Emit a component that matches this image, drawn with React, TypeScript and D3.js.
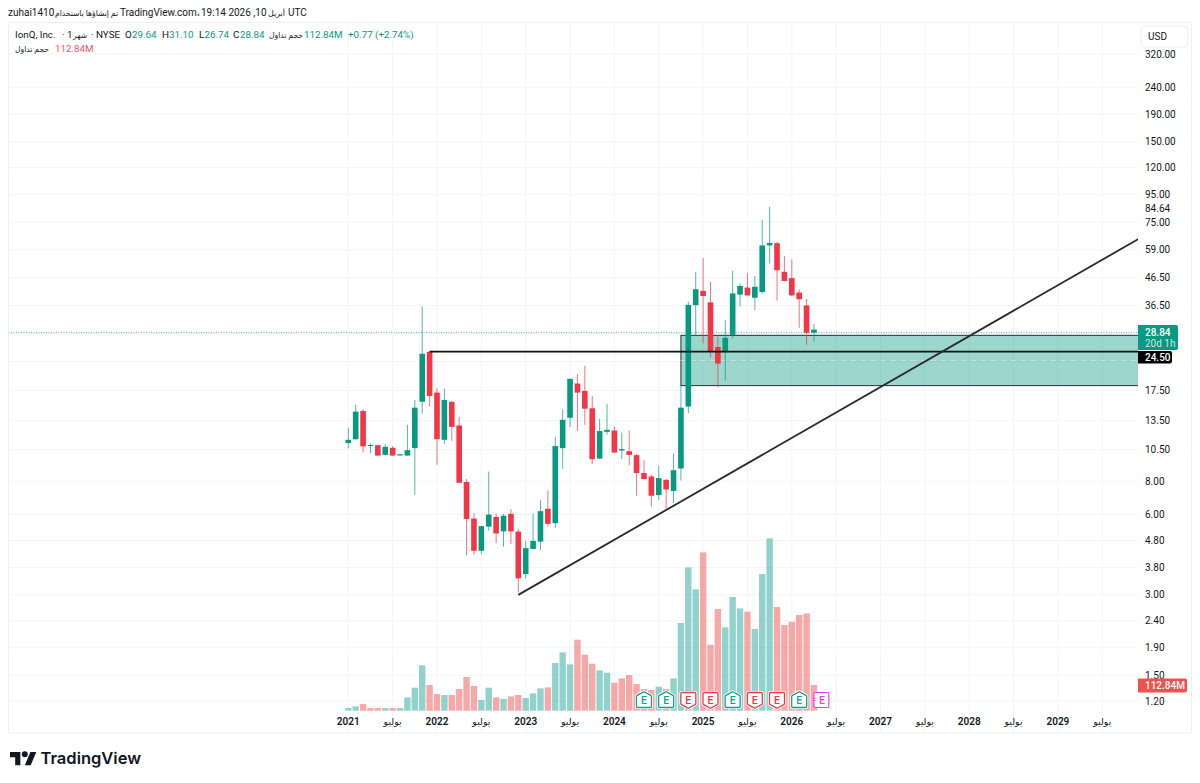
import React from 'react';
import * as d3 from 'd3';

// monthly bars, Jan 2021 -> Apr 2026
const opens = [11.13, 11.5, 14.68, 10.94, 10.92, 10.05, 10.68, 10.0, 9.99, 10.65, 15.9, 24.47, 17.2, 11.44, 15.88, 12.95, 7.95, 5.8, 4.39, 5.41, 5.88, 5.19, 6.04, 5.18, 3.59, 4.46, 4.75, 6.31, 5.57, 10.65, 13.84, 18.6, 17.45, 15.02, 9.73, 12.26, 12.4, 10.56, 10.37, 10.02, 8.59, 8.34, 7.1, 8.1, 7.35, 8.93, 15.25, 36.6, 41.4, 37.5, 25.5, 24.4, 28.3, 40.1, 42.6, 39.0, 41.0, 61.3, 62.5, 48.8, 46.2, 40.8, 36.5, 29.64];
const highs = [12.69, 15.47, 14.9, 11.1, 10.96, 11.03, 10.84, 10.14, 13.03, 16.15, 36.2, 24.5, 17.87, 17.8, 16.0, 13.92, 8.15, 6.08, 5.45, 8.7, 6.04, 6.04, 6.29, 5.29, 4.78, 6.04, 6.81, 7.39, 11.72, 14.9, 19.42, 20.2, 21.7, 16.7, 13.72, 15.6, 12.84, 12.19, 12.4, 10.14, 9.6, 8.46, 9.14, 8.15, 10.17, 18.4, 37.7, 48.7, 55.0, 44.8, 27.9, 32.2, 49.2, 44.2, 48.2, 47.1, 76.3, 85.5, 63.0, 55.9, 54.3, 41.9, 38.6, 31.1];
const lows = [10.63, 11.44, 10.25, 10.2, 9.97, 9.99, 9.97, 9.97, 9.97, 7.12, 14.33, 15.25, 9.22, 11.03, 11.34, 7.88, 4.22, 4.24, 4.27, 5.22, 4.69, 4.55, 4.65, 3.06, 3.45, 4.45, 4.42, 5.41, 5.34, 8.91, 12.77, 12.37, 13.03, 9.28, 9.71, 11.95, 10.25, 9.68, 9.17, 7.06, 8.15, 6.43, 6.81, 6.31, 6.62, 8.05, 14.42, 28.3, 26.3, 23.3, 18.0, 19.1, 27.5, 36.2, 39.7, 35.1, 40.4, 52.4, 38.1, 45.0, 39.6, 30.1, 26.0, 26.74];
const closes = [11.44, 14.6, 10.81, 10.85, 9.99, 10.77, 9.99, 10.1, 10.46, 15.1, 24.06, 16.7, 11.5, 16.15, 12.8, 7.9, 5.77, 4.39, 5.43, 6.0, 5.1, 5.94, 5.19, 3.46, 4.49, 4.78, 6.18, 5.54, 10.84, 13.6, 19.37, 17.2, 14.97, 9.68, 12.34, 12.47, 10.25, 10.43, 10.05, 8.59, 8.15, 7.06, 8.22, 7.45, 8.8, 15.1, 36.7, 42.0, 39.6, 24.5, 22.1, 27.6, 40.5, 43.2, 39.8, 42.9, 61.3, 62.6, 49.5, 45.1, 39.8, 38.5, 28.8, 28.84];
const volumes = [11.7, 19, 29.3, 11.7, 11.7, 11.7, 11.7, 11.7, 58.4, 101, 199, 112.8, 73.3, 68.9, 68.9, 95.3, 148, 108.4, 47, 101, 58.4, 51.4, 62.8, 68.9, 55.8, 75.9, 97.9, 102.3, 209.4, 255.9, 203.3, 311.7, 245.8, 206.3, 176.9, 166.8, 122.9, 141.8, 156.7, 117.2, 95.3, 90.9, 105.4, 95.3, 141.8, 385, 629, 532.5, 694.9, 289.7, 446.5, 365.7, 499.1, 449.1, 434.6, 358.7, 600.1, 756.4, 455.2, 376.2, 390.7, 420.1, 427.1, 112.84];

const priceTicks = [320, 240, 190, 150, 120, 95, 75, 59, 46.5, 36.5, 17.5, 13.5, 10.5, 8, 6, 4.8, 3.8, 3, 2.4, 1.9, 1.5, 1.2];
const hiddenTicks = [28.5, 22.5]; // labels covered by the price tags
const years = ['2021', '2022', '2023', '2024', '2025', '2026', '2027', '2028', '2029'];
const julyLabel = 'يوليو';

// earnings markers: bar index and result
const earningsIdx = [40, 43, 46, 49, 52, 55, 58, 61];
const earningsBeat = [true, true, false, false, true, false, false, true];
const nextEarningsIdx = 64;

// drawings
const trendIdx = [23, 106.9];
const trendPrice = [3.0, 64.8];
const levelStartIdx = 11;
const levelPrice = 24.5;
const boxStartIdx = 45;
const boxPrices = [28.2, 18.27];
const lastClose = 28.84;

const UP = '#089981';
const DOWN = '#F23645';
const TEXT = '#131722';
const FONT = 'Roboto, "DejaVu Sans", sans-serif';

const paneLeft = 8.5;
const paneTop = 22.5;
const paneRight = 1138;
const paneBottom = 733;
const outerRight = 1191.5;

const x = d3.scaleLinear().domain([0, 12]).range([348.3, 437]);
const y = d3.scaleLog().domain([320, 1.2]).range([54, 701]);
const volY = d3.scaleLinear().domain([0, d3.max(volumes) as number]).range([710.7, 538.4]);

const trendLine = d3.line<number>()
    .x(d => x(d))
    .y((d, i) => y(trendPrice[i]));

const housePath = (up: boolean) => {
    // pentagon pointing up or down, centred on 0,0
    return up
        ? 'M0,-8.2 L6.8,-4.6 Q7.5,-4.2 7.5,-3.4 L7.5,6.3 Q7.5,7.5 6.3,7.5 L-6.3,7.5 Q-7.5,7.5 -7.5,6.3 L-7.5,-3.4 Q-7.5,-4.2 -6.8,-4.6 Z'
        : 'M0,8.2 L6.8,4.6 Q7.5,4.2 7.5,3.4 L7.5,-6.3 Q7.5,-7.5 6.3,-7.5 L-6.3,-7.5 Q-7.5,-7.5 -7.5,-6.3 L-7.5,3.4 Q-7.5,4.2 -6.8,4.6 Z';
};

// arabic runs come out wide in the fallback font, so squeeze them to the measured width
const Fit: React.FC<{ x: number; y: number; w: number; size?: number; text: string }> = ({ x: tx, y: ty, w, size = 8, text }) => (
    <text x={tx} y={ty} fontSize={size} textLength={w} lengthAdjust="spacingAndGlyphs">{text}</text>
);

const App: React.FC = () => {
    const vGrid = d3.range(0, 108, 6);
    const boxTop = y(boxPrices[0]);
    const boxBottom = y(boxPrices[1]);
    const boxMid = (boxTop + boxBottom) / 2;

    return (
        <svg width={1200} height={783} style={{ position: 'absolute', left: 0, top: 0, background: '#fff' }} fontFamily={FONT}>
            <defs>
                <clipPath id="pane">
                    <rect x={paneLeft} y={paneTop} width={paneRight - paneLeft} height={paneBottom - paneTop} />
                </clipPath>
            </defs>

            {/* watermark line */}
            <g fontSize={10} fill={TEXT}>
                <text x={8} y={15.5}>zuhai1410</text>
                <Fit x={55} y={15.5} w={63} text="تم إنشاؤها باستخدام" />
                <text x={120} y={15.5}>TradingView.com،</text>
                <text x={201} y={15.5}>19:14 2026 ,10</text>
                <Fit x={268} y={15.5} w={17} text="أبريل" />
                <text x={288} y={15.5}>UTC</text>
            </g>

            {/* frame */}
            <rect x={paneLeft} y={paneTop} width={outerRight - paneLeft} height={paneBottom - paneTop} fill="none" stroke="#eeeff2" />

            {/* grid */}
            {vGrid.map(i => (
                <line key={i} x1={x(i)} x2={x(i)} y1={paneTop} y2={paneBottom} stroke="#f4f5f7" />
            ))}
            {[...priceTicks, ...hiddenTicks].map(t => (
                <line key={t} x1={paneLeft} x2={paneRight} y1={y(t)} y2={y(t)} stroke="#f4f5f7" />
            ))}

            <g clipPath="url(#pane)">
                {/* volume */}
                {volumes.map((v, i) => (
                    <rect key={i} x={x(i) - 3.2} width={6.4} y={volY(v)} height={volY(0) - volY(v)}
                        fill={closes[i] >= opens[i] ? '#26a69a' : '#ef5350'} opacity={0.5} />
                ))}

                {/* zone */}
                <rect x={x(boxStartIdx)} width={paneRight - x(boxStartIdx) + 2} y={boxTop} height={boxBottom - boxTop}
                    fill="#089981" fillOpacity={0.4} stroke="#2a2e39" strokeWidth={1} />
                <line x1={x(boxStartIdx)} x2={paneRight} y1={boxMid} y2={boxMid} stroke="#d6dbd9" strokeDasharray="5 5" />

                {/* last price */}
                <line x1={paneLeft} x2={paneRight} y1={y(lastClose)} y2={y(lastClose)} stroke={UP} strokeOpacity={0.7} strokeDasharray="1 1.5" />

                {/* candles, coloured against the previous close */}
                {closes.map((c, i) => {
                    const up = i === 0 ? c >= opens[i] : c >= closes[i - 1];
                    const col = up ? UP : DOWN;
                    const top = y(Math.max(opens[i], c));
                    const bot = y(Math.min(opens[i], c));
                    return (
                        <g key={i}>
                            <line x1={x(i)} x2={x(i)} y1={y(highs[i])} y2={y(lows[i])} stroke={col} strokeWidth={1} strokeOpacity={0.7} />
                            <rect x={x(i) - 2.8} width={5.6} y={top} height={Math.max(bot - top, 1)} fill={col} />
                        </g>
                    );
                })}

                {/* drawings */}
                <line x1={x(levelStartIdx)} x2={paneRight} y1={y(levelPrice)} y2={y(levelPrice)} stroke="#111" strokeWidth={1.7} />
                <path d={trendLine(trendIdx) as string} fill="none" stroke="#2b2b2b" strokeWidth={1.8} />
            </g>

            {/* earnings */}
            {earningsIdx.map((idx, k) => {
                const col = earningsBeat[k] ? '#12a18b' : DOWN;
                return (
                    <g key={idx} transform={`translate(${x(idx)},700)`}>
                        <path d={housePath(earningsBeat[k])} fill="#fff" stroke="#fff" strokeWidth={3} />
                        <path d={housePath(earningsBeat[k])} fill="#fff" stroke={col} strokeWidth={1.3} />
                        <text textAnchor="middle" y={3.8} fontSize={10.5} fontWeight={500} fill={col}>E</text>
                    </g>
                );
            })}
            <g transform={`translate(${x(nextEarningsIdx)},700)`}>
                <rect x={-7.5} y={-7.5} width={15} height={15} rx={1.5} fill="#fff" stroke="#E040FB" strokeWidth={1.2} />
                <text textAnchor="middle" y={3.8} x={0.5} fontSize={10.5} fontWeight={500} fill="#E040FB">E</text>
                <text textAnchor="middle" y={3.2} x={-7} fontSize={9} fill="#E040FB">=</text>
            </g>

            {/* price axis */}
            {priceTicks.map(t => (
                <text key={t} x={1145} y={y(t) + 3.6} fontSize={10} fill={TEXT}>{t.toFixed(2)}</text>
            ))}
            <text x={1145} y={y(84.64) + 3.6} fontSize={10} fill={TEXT}>84.64</text>

            <rect x={1141} y={26} width={47} height={21} rx={4} fill="#fff" stroke="#eceef1" />
            <text x={1148} y={40} fontSize={10} fill={TEXT}>USD</text>

            <path d="M1138,325 H1176 Q1178,325 1178,327 V348 Q1178,350 1176,350 H1138 Z" fill={UP} />
            <text x={1145} y={336} fontSize={10} fontWeight={500} fill="#fff">{lastClose.toFixed(2)}</text>
            <text x={1145} y={347} fontSize={10} fill="#fff" fillOpacity={0.8}>20d 1h</text>
            <path d="M1138,351 H1170 Q1172,351 1172,353 V361.5 Q1172,363.5 1170,363.5 H1138 Z" fill="#000" />
            <text x={1145} y={361} fontSize={10} fontWeight={500} fill="#fff">{levelPrice.toFixed(2)}</text>
            <path d="M1138,678.5 H1185 Q1187,678.5 1187,680.5 V690.5 Q1187,692.5 1185,692.5 H1138 Z" fill="#EF5350" />
            <text x={1145} y={689.2} fontSize={10} fontWeight={500} fill="#fff">112.84M</text>

            {/* time axis */}
            {years.map((label, i) => (
                <text key={label} x={x(i * 12)} y={724.5} textAnchor="middle" fontSize={10} fontWeight={600} fill={TEXT}>{label}</text>
            ))}
            {years.map((label, i) => (
                <text key={label} x={x(i * 12 + 6)} y={724.5} textAnchor="middle" fontSize={9.5} fill={TEXT}>{julyLabel}</text>
            ))}

            {/* legend */}
            <g fontSize={9.8} fill={TEXT}>
                <text x={15} y={37.5}>IonQ, Inc.</text>
                <text x={62} y={37.5}>· 1</text>
                <Fit x={73} y={37.5} w={14} text="شهر" />
                <text x={91} y={37.5}>· NYSE</text>
                <text x={125} y={37.5}>O</text>
                <text x={132} y={37.5} fill={UP}>29.64</text>
                <text x={162} y={37.5}>H</text>
                <text x={169} y={37.5} fill={UP}>31.10</text>
                <text x={199} y={37.5}>L</text>
                <text x={204.5} y={37.5} fill={UP}>26.74</text>
                <text x={233} y={37.5}>C</text>
                <text x={240} y={37.5} fill={UP}>28.84</text>
                <Fit x={269} y={37.5} w={34} text="حجم تداول" />
                <text x={304} y={37.5} fill={UP}>112.84M</text>
                <text x={348} y={37.5} fill={UP}>+0.77 (+2.74%)</text>
                <Fit x={15} y={51.5} w={34} text="حجم تداول" />
                <text x={55} y={51.5} fill="#F7525F">112.84M</text>
            </g>

            {/* logo */}
            <g transform="translate(10,749) scale(0.74)" fill={TEXT}>
                <path d="M14 22H7V11H0V4h14v18zM28 22h-8l7.5-18h8L28 22z" />
                <circle cx={20} cy={7} r={4} />
            </g>
            <text x={40.5} y={764} fontSize={16.5} fontWeight={600} fontFamily="Inter, sans-serif" fill={TEXT}>TradingView</text>
        </svg>
    );
};

export default App;
